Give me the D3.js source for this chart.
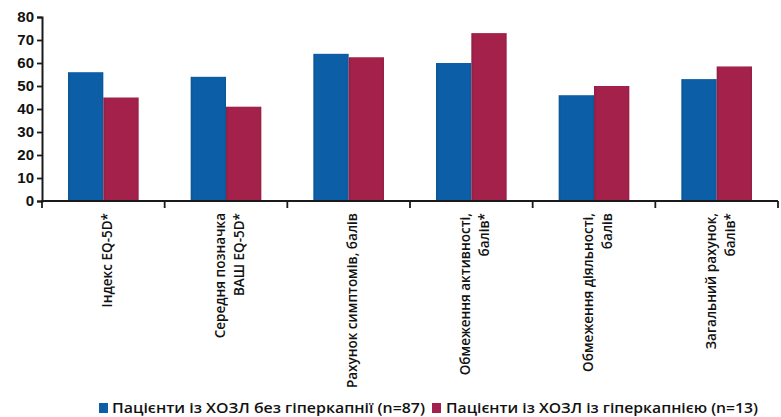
<!DOCTYPE html>
<html>
<head>
<meta charset="utf-8">
<script src="https://cdn.jsdelivr.net/npm/d3@7"></script>
<style>
  html, body { margin: 0; padding: 0; background: #fff; }
  svg { display: block; }
</style>
</head>
<body>
<svg id="chart" width="781" height="417"></svg>
<script>
// Quality-of-life scores, COPD patients with and without hypercapnia
const categories = [
  ["Індекс EQ-5D*"],
  ["Середня позначка", "ВАШ EQ-5D*"],
  ["Рахунок симптомів, балів"],
  ["Обмеження активності,", "балів*"],
  ["Обмеження діяльності,", "балів"],
  ["Загальний рахунок,", "балів*"]
];
const seriesNames = [
  "Пацієнти із ХОЗЛ без гіперкапнії (n=87)",
  "Пацієнти із ХОЗЛ із гіперкапнією (n=13)"
];
const withoutHypercapnia = [56, 54, 64, 60, 46, 53];
const withHypercapnia = [45, 41, 62.5, 73, 50, 58.5];
const yTicks = [0, 10, 20, 30, 40, 50, 60, 70, 80];
const colors = ["#0c5fa6", "#a3214b"];

const svg = d3.select("#chart");
const margin = { left: 42, right: 3, top: 17, bottom: 216 };
const W = 781, H = 417;
const plotBottom = H - margin.bottom;

const x0 = d3.scaleBand()
  .domain(d3.range(categories.length))
  .range([margin.left, W - margin.right])
  .paddingInner(0).paddingOuter(0);

const x1 = d3.scaleBand()
  .domain([0, 1])
  .range([26, x0.bandwidth() - 26]);

const y = d3.scaleLinear().domain([0, 80]).range([plotBottom, margin.top]);

// bar shading: slightly darker strip along the left edge
const defs = svg.append("defs");
colors.forEach((c, i) => {
  const g = defs.append("linearGradient").attr("id", "shade" + i)
    .attr("x1", "0").attr("x2", "1").attr("y1", "0").attr("y2", "0");
  const dark = d3.color(c).darker(0.35);
  g.append("stop").attr("offset", "0").attr("stop-color", dark);
  g.append("stop").attr("offset", "0.08").attr("stop-color", c);
  g.append("stop").attr("offset", "0.92").attr("stop-color", c);
  g.append("stop").attr("offset", "1").attr("stop-color", d3.color(c).darker(0.2));
});

const rows = categories.map((c, i) => ({ i, values: [withoutHypercapnia[i], withHypercapnia[i]] }));

const groups = svg.append("g").selectAll("g")
  .data(rows).join("g")
  .attr("transform", d => `translate(${x0(d.i)},0)`);

groups.selectAll("rect")
  .data(d => d.values.map((v, s) => ({ v, s })))
  .join("rect")
  .attr("x", d => x1(d.s))
  .attr("width", x1.bandwidth())
  .attr("y", d => y(d.v))
  .attr("height", d => y(0) - y(d.v))
  .attr("fill", d => `url(#shade${d.s})`);

// y axis
const yAxis = d3.axisLeft(y).tickValues(yTicks).tickSize(5).tickPadding(3).tickFormat(d3.format("d"));
const gy = svg.append("g").attr("transform", `translate(${margin.left},0)`).call(yAxis);
gy.select(".domain").attr("stroke", "#1a1a1a").attr("stroke-width", 2);
gy.selectAll(".tick line").attr("stroke", "#1a1a1a").attr("stroke-width", 1.8);
gy.selectAll(".tick text")
  .attr("font-family", "'Liberation Sans', Arial, sans-serif")
  .attr("font-weight", "bold")
  .attr("font-size", 15)
  .attr("fill", "#111");

// x axis with ticks at category boundaries
const gx = svg.append("g").attr("transform", `translate(0,${plotBottom})`);
gx.append("line")
  .attr("x1", margin.left - 1).attr("x2", W - margin.right)
  .attr("y1", 0).attr("y2", 0)
  .attr("stroke", "#1a1a1a").attr("stroke-width", 2);
const bounds = d3.range(categories.length + 1).map(i => i < categories.length ? x0(i) : x0(i - 1) + x0.bandwidth());
gx.selectAll("line.bt").data(bounds).join("line").attr("class", "bt")
  .attr("x1", d => d).attr("x2", d => d)
  .attr("y1", 0).attr("y2", 7)
  .attr("stroke", "#1a1a1a").attr("stroke-width", 1.8);

// rotated category labels, right-aligned at the top
const lineH = 19;
const labelTop = plotBottom + 12;
categories.forEach((lines, i) => {
  const cx = x0(i) + x0.bandwidth() / 2;
  const n = lines.length;
  lines.forEach((t, k) => {
    const bx = cx + 8.5 + (k - (n - 1) / 2) * lineH;
    svg.append("text")
      .attr("transform", `translate(${bx},${labelTop}) rotate(-90)`)
      .attr("text-anchor", "end")
      .attr("font-family", "'Open Sans', 'Liberation Sans', Arial, sans-serif")
      .attr("font-weight", 600)
      .attr("font-size", 13.5)
      .attr("fill", "#111")
      .text(t);
  });
});

// legend
const legend = [
  { sq: 99, tx: 112, w: 313 },
  { sq: 432, tx: 446, w: 312 }
];
legend.forEach((l, s) => {
  svg.append("rect")
    .attr("x", l.sq).attr("y", 403).attr("width", 9).attr("height", 10)
    .attr("fill", colors[s]);
  svg.append("text")
    .attr("x", l.tx).attr("y", 413)
    .attr("font-family", "'Open Sans', 'Liberation Sans', Arial, sans-serif")
    .attr("font-weight", 600)
    .attr("font-size", 15)
    .attr("fill", "#111")
    .attr("textLength", l.w)
    .attr("lengthAdjust", "spacingAndGlyphs")
    .text(seriesNames[s]);
});
</script>
</body>
</html>
